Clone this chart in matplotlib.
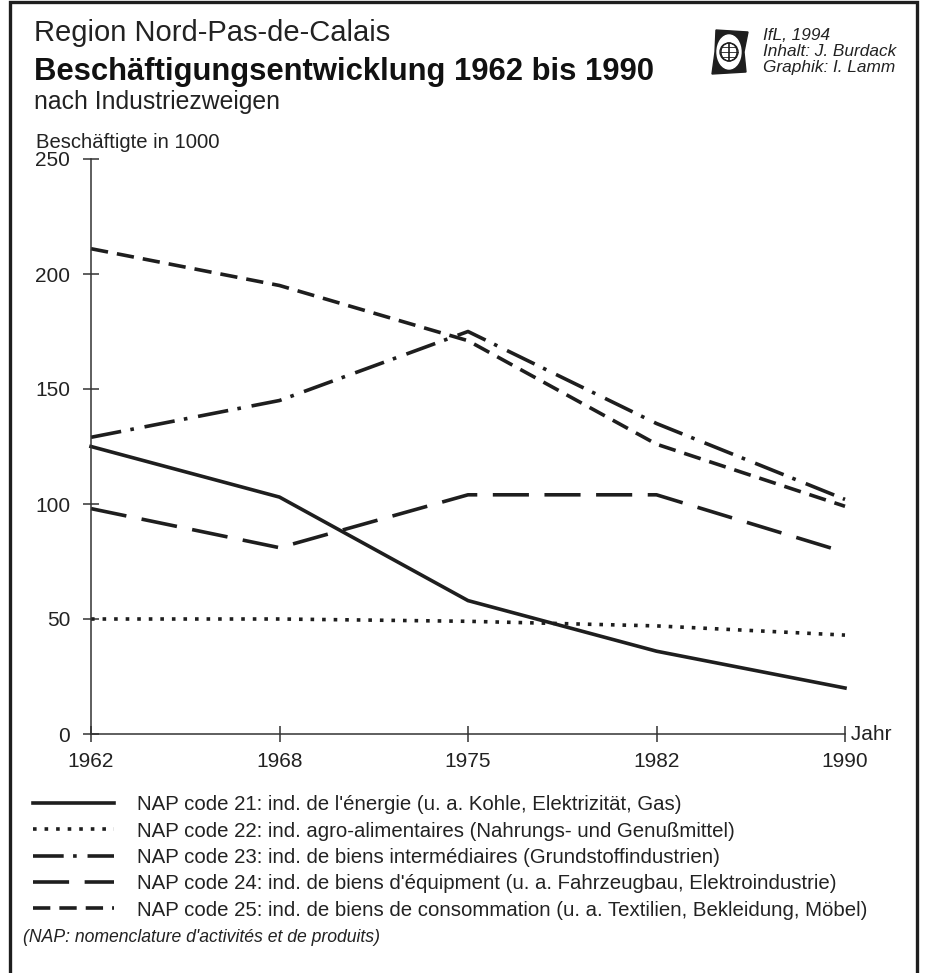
import matplotlib.pyplot as plt
from matplotlib.patches import Rectangle, Ellipse, Polygon, Circle

# data (employees in 1000)
years = ['1962', '1968', '1975', '1982', '1990']
energie = [125, 103, 58, 36, 20]
agro = [50, 50, 49, 47, 43]
intermediaires = [129, 145, 175, 135, 102]
equipement = [98, 81, 104, 104, 79]
consommation = [211, 195, 171, 126, 99]

labels = [
    "NAP code 21: ind. de l'énergie (u. a. Kohle, Elektrizität, Gas)",
    "NAP code 22: ind. agro-alimentaires (Nahrungs- und Genußmittel)",
    "NAP code 23: ind. de biens intermédiaires (Grundstoffindustrien)",
    "NAP code 24: ind. de biens d'équipment (u. a. Fahrzeugbau, Elektroindustrie)",
    "NAP code 25: ind. de biens de consommation (u. a. Textilien, Bekleidung, Möbel)",
]
yticks = [0, 50, 100, 150, 200, 250]

plt.rcParams['font.family'] = ['Liberation Sans', 'DejaVu Sans']
ink = '#1e1e1e'
txt = '#222222'
W, H = 926, 973

fig = plt.figure(figsize=(W / 100, H / 100), dpi=100)
ax = fig.add_axes([91 / W, 1 - 734 / H, (845 - 91) / W, (734 - 159) / H])

x = range(len(years))
series = [
    (energie, '-'),
    (agro, (0, (1, 2.2))),
    (intermediaires, (0, (8.5, 2.6, 1, 3))),
    (equipement, (0, (10, 4.3))),
    (consommation, (0, (4.8, 2.5))),
]
handles = []
for vals, ls in series:
    h, = ax.plot(x, vals, color=ink, lw=2.6, linestyle=ls, solid_joinstyle='miter',
                 clip_on=False)
    handles.append(h)

ax.set_xlim(0, 4)
ax.set_ylim(0, 250)
ax.set_xticks(list(x))
ax.set_xticklabels(years)
ax.set_yticks(yticks)
for s in ['top', 'right']:
    ax.spines[s].set_visible(False)
for s in ['left', 'bottom']:
    ax.spines[s].set_linewidth(1.1)
    ax.spines[s].set_color('#333333')
ax.tick_params(direction='inout', length=12, width=1.1, color='#333333',
               labelsize=15, labelcolor=txt)
ax.tick_params(axis='y', pad=9)
ax.tick_params(axis='x', pad=7)
ax.patch.set_visible(False)

ax.text(4, 0, ' Jahr', fontsize=15, color=txt, va='center', ha='left')
fig.text(36 / W, 1 - 148 / H, 'Beschäftigte in 1000', fontsize=14.6, color=txt)

# header
fig.text(34 / W, 1 - 41 / H, 'Region Nord-Pas-de-Calais', fontsize=21, color=txt)
fig.text(34 / W, 1 - 80 / H, 'Beschäftigungsentwicklung 1962 bis 1990', fontsize=22.3,
         fontweight='bold', color='#111111')
fig.text(34 / W, 1 - 109 / H, 'nach Industriezweigen', fontsize=17.8, color=txt)

for i, t in enumerate(['IfL, 1994', 'Inhalt: J. Burdack', 'Graphik: I. Lamm']):
    fig.text(763 / W, 1 - (40 + 16 * i) / H, t, fontsize=12.4, style='italic', color=txt)

# small logo
lg = fig.add_axes([708 / W, 1 - 76 / H, 42 / W, 48 / H])
lg.set_xlim(0, 42)
lg.set_ylim(0, 48)
lg.axis('off')
lg.add_patch(Polygon([[8, 46], [40, 44], [36, 24], [38, 4], [4, 2], [7, 24]],
                     closed=True, color=ink))
lg.add_patch(Ellipse((21, 24), 24, 34, color='white'))
lg.add_patch(Circle((21, 24), 9, fill=False, color=ink, lw=1))
for dx in [-5, 0, 5]:
    lg.add_patch(Ellipse((21, 24), abs(dx) * 3 + 1, 18, fill=False, color=ink, lw=0.6))
for dy in [-5, 0, 5]:
    lg.plot([21 - (81 - dy * dy) ** 0.5, 21 + (81 - dy * dy) ** 0.5], [24 + dy, 24 + dy],
            color=ink, lw=0.6)

leg = fig.legend(handles, labels, loc='upper left', bbox_to_anchor=(25 / W, 1 - 787 / H),
                 frameon=False, fontsize=14.7, handlelength=3.95, handletextpad=1.15,
                 labelspacing=0.36, borderaxespad=0)
for t in leg.get_texts():
    t.set_color(txt)
fig.text(23 / W, 1 - 942 / H, "(NAP: nomenclature d'activités et de produits)",
         fontsize=12.7, style='italic', color=txt)

# frame around the sheet
fig.add_artist(Rectangle((10 / W, -0.02), 907 / W, 1.02 - 2 / H, fill=False,
                         lw=2.4, edgecolor=ink, transform=fig.transFigure))

fig.savefig('out.png', dpi=100)
